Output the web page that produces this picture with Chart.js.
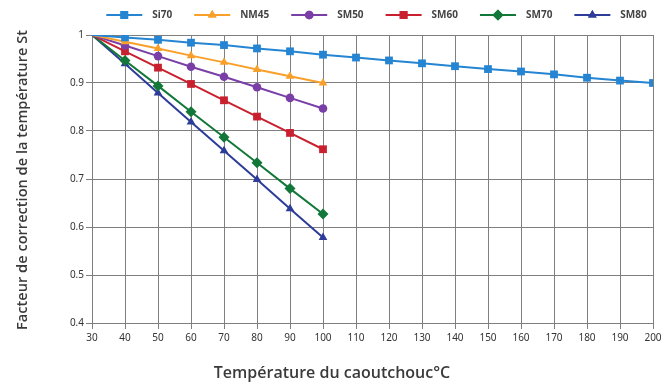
<!DOCTYPE html>
<html><head><meta charset="utf-8">
<script src="https://cdn.jsdelivr.net/npm/chart.js@4/dist/chart.umd.min.js"></script>
<style>html,body{margin:0;padding:0;background:#fff}#wrap{width:672px;height:383px;position:relative}</style>
</head><body><div id="wrap"><canvas id="c" width="672" height="383"></canvas></div>
<script>
const temps = [30,40,50,60,70,80,90,100,110,120,130,140,150,160,170,180,190,200];
const seriesNames = ['Si70','NM45','SM50','SM60','SM70','SM80'];
const si70 = [1,0.995,0.99,0.984,0.979,0.972,0.966,0.959,0.953,0.947,0.941,0.935,0.929,0.924,0.918,0.911,0.905,0.9];
const nm45 = [1,0.986,0.972,0.957,0.943,0.928,0.914,0.9];
const sm50 = [1,0.978,0.956,0.934,0.913,0.891,0.869,0.847];
const sm60 = [1,0.966,0.932,0.898,0.864,0.83,0.796,0.762];
const sm70 = [1,0.947,0.894,0.84,0.787,0.734,0.68,0.627];
const sm80 = [1,0.94,0.879,0.819,0.759,0.699,0.638,0.578];
const yTicks = [0.4,0.5,0.6,0.7,0.8,0.9,1];
const xTitle = 'Température du caoutchouc°C';
const yTitle = 'Facteur de correction de la température St';

const colors = ['#2585d3','#f9a02a','#7a3fa7','#c9202f','#12783a','#2d3c98'];
const styles = ['rect','triangle','circle','rect','rectRot','triangle'];
const radii = [5.5,5,4.3,5.5,5.5,5];
const values = [si70,nm45,sm50,sm60,sm70,sm80];

const datasets = values.map((v,i)=>({
  label: seriesNames[i],
  data: v.map((y,k)=>({x:temps[k],y:y})),
  borderColor: colors[i], backgroundColor: colors[i],
  borderWidth: 2, pointStyle: styles[i],
  pointRadius: v.map((y,k)=>k===0?0:radii[i]),
  pointBorderWidth: 0, pointHoverRadius: 0,
  tension: 0
}));

const decoPlugin = {
  id:'deco',
  afterDraw(chart){
    const ctx=chart.ctx, ca=chart.chartArea;
    ctx.save();
    ctx.font='bold 10px "Noto Sans"';
    const iconW=36, gapT=10, gapI=22;
    const widths=seriesNames.map(n=>ctx.measureText(n).width);
    let total=widths.reduce((a,b)=>a+b,0)+seriesNames.length*(iconW+gapT)+(seriesNames.length-1)*gapI;
    let x=(ca.left+ca.right)/2-total/2+4;
    const y=15;
    seriesNames.forEach((n,i)=>{
      ctx.strokeStyle=colors[i];ctx.lineWidth=2;
      ctx.beginPath();ctx.moveTo(x,y);ctx.lineTo(x+iconW,y);ctx.stroke();
      ctx.fillStyle=colors[i];
      Chart.helpers.drawPoint(ctx,{pointStyle:styles[i],radius:radii[i],borderWidth:0,rotation:0},x+iconW/2,y);
      ctx.fill();
      ctx.fillStyle='#444';ctx.textAlign='left';ctx.textBaseline='middle';
      ctx.fillText(n,x+iconW+gapT,y+0.5);
      x+=iconW+gapT+widths[i]+gapI;
    });
    ctx.fillStyle='#3a3a3a';ctx.font='600 16px "Open Sans"';ctx.textAlign='center';ctx.textBaseline='middle';
    ctx.fillText(xTitle,332,373);
    ctx.translate(23,180);ctx.rotate(-Math.PI/2);
    ctx.font='600 14.6px "Open Sans"';
    ctx.fillText(yTitle,0,0);
    ctx.restore();
  }
};

new Chart(document.getElementById('c'),{
  type:'line',
  data:{datasets},
  plugins:[decoPlugin],
  options:{
    responsive:false, animation:false, devicePixelRatio:1,
    layout:{padding:{left:34,right:19,top:35,bottom:0}},
    plugins:{ tooltip:{enabled:false}, legend:{display:false} },
    scales:{
      x:{type:'linear',min:30,max:200,
        afterBuildTicks(s){s.ticks=temps.map(v=>({value:v}));},
        afterFit(s){s.height=60;},
        grid:{color:'#7f7f7f',lineWidth:1,tickLength:6,drawTicks:true},
        border:{color:'#7f7f7f'},
        ticks:{color:'#333',font:{family:'"Noto Sans"',size:10},maxRotation:0,padding:3,autoSkip:false}
      },
      y:{min:0.4,max:1,
        afterBuildTicks(s){s.ticks=yTicks.map(v=>({value:v}));},
        afterFit(s){s.width=58;},
        grid:{color:'#7f7f7f',lineWidth:1,tickLength:6},
        border:{color:'#7f7f7f'},
        ticks:{color:'#333',font:{family:'"Noto Sans"',size:10},padding:2,
          callback:v=>v===1?'1':v.toFixed(1)}
      }
    }
  }
});
</script></body></html>
